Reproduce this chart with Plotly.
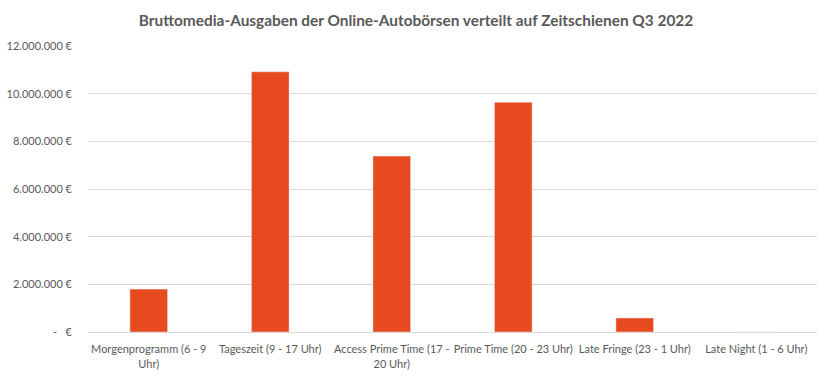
import plotly.graph_objects as go

categories = ["Morgenprogramm (6 - 9<br>Uhr)", "Tageszeit (9 - 17 Uhr)", "Access Prime Time (17 -<br>20 Uhr)",
              "Prime Time (20 - 23 Uhr)", "Late Fringe (23 - 1 Uhr)", "Late Night (1 - 6 Uhr)"]
values = [1800000, 10920000, 7380000, 9640000, 590000, 0]
tick_vals = [0, 2000000, 4000000, 6000000, 8000000, 10000000, 12000000]
tick_text = ["-\u00a0\u00a0\u00a0€", "2.000.000 €", "4.000.000 €", "6.000.000 €", "8.000.000 €", "10.000.000 €", "12.000.000 €"]

font = "Lato, 'Open Sans', sans-serif"
fig = go.Figure(go.Bar(x=categories, y=values, marker_color="#E84A1F", width=0.31))
fig.update_layout(
    width=832, height=379,
    margin=dict(l=88, r=15, t=46, b=47),
    paper_bgcolor="white", plot_bgcolor="white",
    font=dict(family=font, size=11, color="#595959"),
    title=dict(text="<b>Bruttomedia-Ausgaben der Online-Autobörsen verteilt auf Zeitschienen Q3 2022</b>",
               x=0.5, xanchor="center", y=0.945, yanchor="middle",
               font=dict(size=15.4, color="#595959", family=font)),
    showlegend=False,
)
fig.update_yaxes(range=[0, 12000000], tickvals=tick_vals, ticktext=tick_text, automargin=False,
                 showgrid=True, gridcolor="#D9D9D9", gridwidth=1, zeroline=False,
                 showline=False, ticklabelstandoff=15, tickfont=dict(size=11, color="#595959"))
fig.update_xaxes(showline=True, linecolor="#D9D9D9", linewidth=1, showgrid=False, automargin=False,
                 tickfont=dict(size=11, color="#595959"), ticklabelstandoff=7, tickangle=0)
fig.write_html("out.html", config={"displayModeBar": False},
               post_script="document.body.style.margin='0';")
